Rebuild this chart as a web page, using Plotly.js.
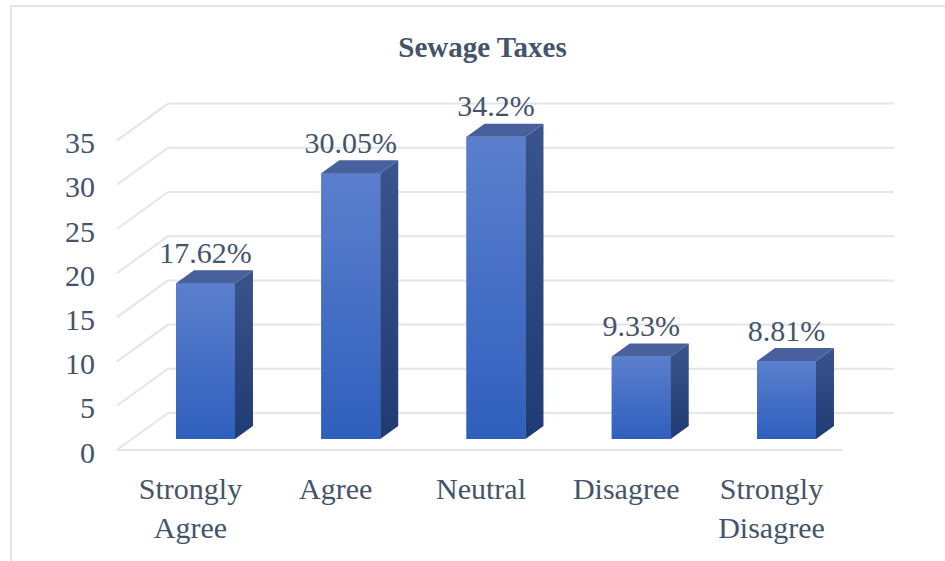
<!DOCTYPE html>
<html>
<head>
<meta charset="utf-8">
<script src="https://cdn.plot.ly/plotly-3.0.1.min.js"></script>
<style>
  html, body { margin: 0; padding: 0; background: #ffffff; }
  #wrap { position: relative; width: 945px; height: 561px; overflow: hidden; }
  #chart { position: absolute; left: 0; top: 0; width: 945px; height: 561px; }
  #frame { position: absolute; left: 10px; top: 5px; right: -5px; bottom: -5px;
           border-top: 2px solid #e3e5ea; border-left: 2px solid #e3e5ea; pointer-events: none; }
</style>
</head>
<body>
<div id="wrap"><div id="chart"></div><div id="frame"></div></div>
<script>
// ---- data ----
const categories = ['Strongly<br>Agree', 'Agree', 'Neutral', 'Disagree', 'Strongly<br>Disagree'];
const values = [17.62, 30.05, 34.2, 9.33, 8.81];
const valueLabels = ['17.62%', '30.05%', '34.2%', '9.33%', '8.81%'];
const yTicks = [0, 5, 10, 15, 20, 25, 30, 35];
const chartTitle = 'Sewage Taxes';

// ---- styling / geometry (pseudo-3D depth) ----
const TXT = '#44546A';
const FONT = '"Liberation Serif", "Times New Roman", serif';
const PX_X = 145.25, PX_Y = 8.84;          // pixels per data unit
const DX = 18 / PX_X, DY = 13 / PX_Y;      // bar depth offset
const W = 0.406;                           // bar width
const K = 11 / 13;                         // floor front edge in front of bar faces
const X0 = -0.7263, X1 = 4.8159;
const Y0 = -2.4887, Y1 = 47.398;
const backLeft = X0 + 68 / PX_X;
const backRight = X0 + 794 / PX_X;
const GRID = '#e3e5ea';

const idx = categories.map((c, i) => i);

// gridlines: back wall lines + left side-wall diagonals + floor front edge
const shapes = [];
yTicks.forEach(v => {
  shapes.push({type: 'line', layer: 'below', xref: 'x', yref: 'y',
    x0: backLeft, x1: backRight, y0: v + 2 * DY, y1: v + 2 * DY,
    line: {color: GRID, width: 2}});
  shapes.push({type: 'line', layer: 'below', xref: 'x', yref: 'y',
    x0: backLeft - (2 + K) * DX, y0: v - K * DY, x1: backLeft, y1: v + 2 * DY,
    line: {color: GRID, width: 2}});
});
shapes.push({type: 'line', layer: 'below', xref: 'x', yref: 'y',
  x0: backLeft - (2 + K) * DX, x1: backRight - (2 + K) * DX,
  y0: yTicks[0] - K * DY, y1: yTicks[0] - K * DY,
  line: {color: GRID, width: 2}});

const traces = [];
// front faces (bars)
traces.push({
  type: 'bar', x: idx, y: values, width: W,
  marker: {color: '#4571c7', line: {width: 0}},
  hoverinfo: 'y', showlegend: false
});
values.forEach((v, i) => {
  const r = i + W / 2, l = i - W / 2;
  // gradient shading of the front face
  traces.push({
    type: 'scatter', mode: 'lines', showlegend: false, hoverinfo: 'skip',
    x: [l, r, r, l, l], y: [0, 0, v, v, 0],
    fill: 'toself', line: {width: 0, color: '#4571c7'}, fillcolor: '#4571c7',
    fillgradient: {type: 'vertical', colorscale: [[0, '#2f5fbd'], [1, '#5b7fcd']]}
  });
  // side face
  traces.push({
    type: 'scatter', mode: 'lines', showlegend: false, hoverinfo: 'skip',
    x: [r, r + DX, r + DX, r, r], y: [0, DY, v + DY, v, 0],
    fill: 'toself', line: {width: 0, color: '#2a467f'},
    fillcolor: '#2a467f',
    fillgradient: {type: 'vertical', colorscale: [[0, '#1f3b73'], [1, '#3a548e']]}
  });
  // top face
  traces.push({
    type: 'scatter', mode: 'lines', showlegend: false, hoverinfo: 'skip',
    x: [l, l + DX, r + DX, r, l], y: [v, v + DY, v + DY, v, v],
    fill: 'toself', line: {width: 0, color: '#48609c'}, fillcolor: '#48609c'
  });
});
// data labels
traces.push({
  type: 'scatter', mode: 'text', showlegend: false, hoverinfo: 'skip',
  x: idx, y: values.map(v => v + DY), text: valueLabels,
  textposition: 'top center', cliponaxis: false,
  textfont: {family: FONT, size: 30, color: TXT}
});

const layout = {
  width: 945, height: 561,
  margin: {l: 100, r: 40, t: 20, b: 100},
  paper_bgcolor: '#ffffff', plot_bgcolor: '#ffffff',
  showlegend: false,
  title: {text: '<b>' + chartTitle + '</b>', xref: 'container', yref: 'container',
          x: 0.5106, y: 0.916, xanchor: 'center', yanchor: 'middle',
          font: {family: FONT, size: 29, color: TXT}},
  xaxis: {range: [X0, X1], tickvals: idx, ticktext: categories,
          showgrid: false, zeroline: false, showline: false, ticks: '',
          ticklabelshift: -15, ticklabelstandoff: 7, fixedrange: true,
          tickfont: {family: FONT, size: 30, color: TXT}},
  yaxis: {range: [Y0, Y1], tickvals: yTicks, ticktext: yTicks.map(String),
          showgrid: false, zeroline: false, showline: false, ticks: '',
          ticklabelshift: 13, ticklabelstandoff: 4, fixedrange: true,
          tickfont: {family: FONT, size: 30, color: TXT}},
  shapes: shapes
};

Plotly.newPlot('chart', traces, layout, {displayModeBar: false, staticPlot: true});
</script>
</body>
</html>
